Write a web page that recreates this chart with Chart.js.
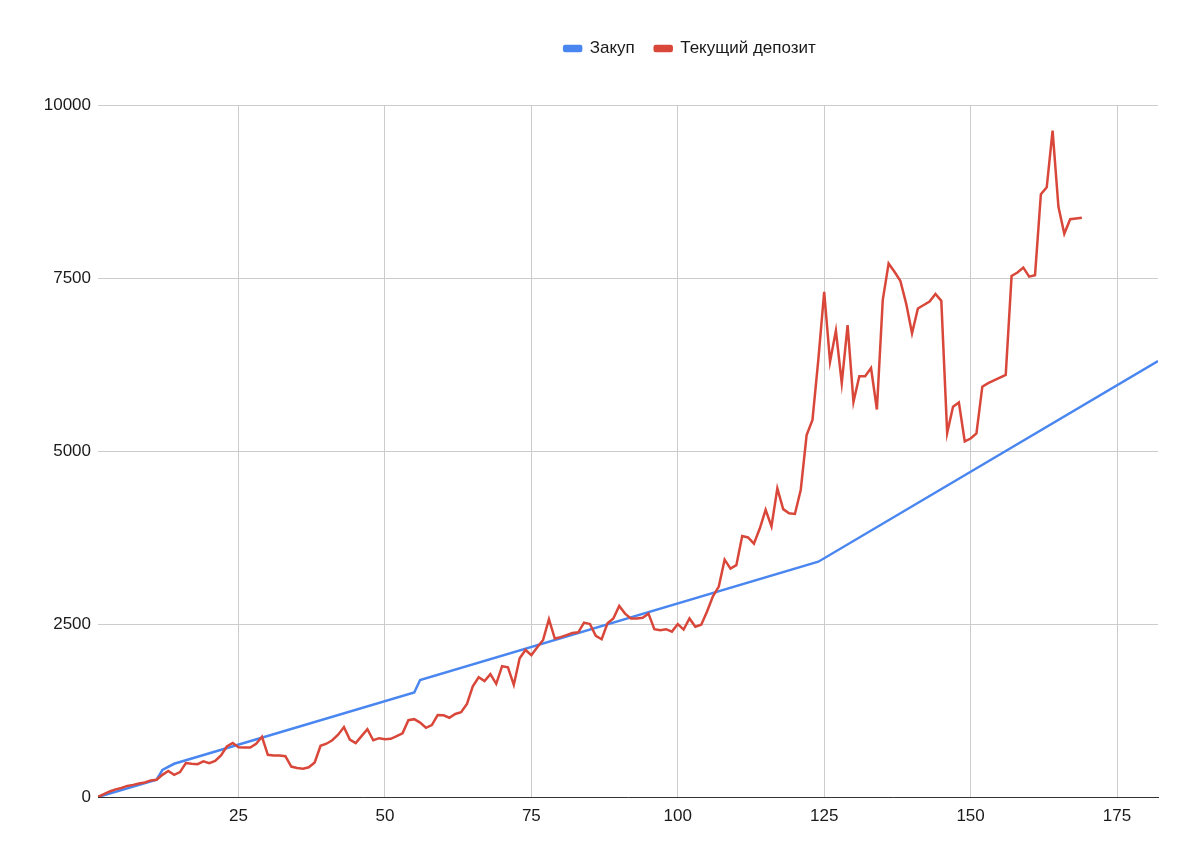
<!DOCTYPE html>
<html lang="ru">
<head>
    <meta charset="UTF-8">
    <title>Закуп и текущий депозит</title>
    <script src="https://cdn.jsdelivr.net/npm/chart.js@4.4.0/dist/chart.umd.min.js"></script>
    <style>
        html, body {
            margin: 0;
            padding: 0;
            background-color: #ffffff;
        }
        canvas {
            display: block;
        }
    </style>
</head>
<body>
    <canvas id="deposit-chart" width="1200" height="846"></canvas>

    <script>
        // Закуп: break points of the purchase line (day, sum)
        const purchaseDays = [1, 11, 12, 14, 55, 56, 124, 182];
        const purchaseSums = [0, 250, 390, 480, 1510, 1690, 3400, 6300];

        // Текущий депозит: one value per day, starting at day 1
        const depositValues = [
            0, 40, 80, 110, 130, 160, 175, 195, 210, 240,
            250, 320, 375, 320, 360, 490, 480, 475, 515, 490,
            520, 600, 730, 780, 720, 715, 715, 770, 870, 610,
            600, 600, 590, 440, 420, 410, 430, 500, 740, 770,
            820, 900, 1010, 830, 780, 880, 980, 820, 850, 835,
            840, 880, 920, 1110, 1125, 1075, 1000, 1040, 1185, 1180,
            1145, 1200, 1225, 1345, 1600, 1730, 1675, 1775, 1635, 1890,
            1875, 1620, 2005, 2125, 2050, 2165, 2270, 2570, 2290, 2310,
            2340, 2370, 2380, 2520, 2500, 2330, 2280, 2510, 2580, 2760,
            2650, 2580, 2580, 2590, 2650, 2425, 2410, 2425, 2390, 2500,
            2420, 2580, 2460, 2490, 2680, 2900, 3040, 3430, 3300, 3350,
            3770, 3750, 3660, 3880, 4150, 3910, 4460, 4160, 4100, 4090,
            4440, 5230, 5450, 6320, 7300, 6290, 6740, 5980, 6820, 5710,
            6080, 6080, 6200, 5600, 7180, 7710, 7590, 7460, 7130, 6700,
            7060, 7110, 7160, 7270, 7170, 5260, 5640, 5700, 5140, 5180,
            5255, 5930, 5980, 6020, 6060, 6100, 7530, 7580, 7650, 7520,
            7540, 8710, 8810, 9630, 8530, 8140, 8350, 8360, 8370
        ];

        const xTicks = [25, 50, 75, 100, 125, 150, 175];
        const yTicks = [0, 2500, 5000, 7500, 10000];

        const purchasePoints = purchaseDays.map((day, i) => ({ x: day, y: purchaseSums[i] }));
        const depositPoints = depositValues.map((v, i) => ({ x: i + 1, y: v }));

        // extra space under the legend, and legend pushed a bit to the right
        const legendPlacement = {
            id: 'legendPlacement',
            beforeInit(chart) {
                const originalFit = chart.legend.fit;
                chart.legend.fit = function fit() {
                    originalFit.bind(chart.legend)();
                    this.height += 38;
                };
            },
            afterLayout(chart) {
                chart.legend.left += 222;
            }
        };

        const font = { family: "'Liberation Sans', Arial, sans-serif", size: 17 };
        const textColor = '#1a1a1a';

        new Chart(document.getElementById('deposit-chart'), {
            type: 'line',
            data: {
                datasets: [
                    {
                        label: 'Закуп',
                        data: purchasePoints,
                        borderColor: '#4a86f0',
                        backgroundColor: '#4a86f0',
                        borderWidth: 2.5,
                        pointRadius: 0,
                        tension: 0,
                        order: 2
                    },
                    {
                        label: 'Текущий депозит',
                        data: depositPoints,
                        borderColor: '#d9473a',
                        backgroundColor: '#d9473a',
                        borderWidth: 2.5,
                        pointRadius: 0,
                        tension: 0,
                        order: 1
                    }
                ]
            },
            options: {
                responsive: false,
                animation: false,
                layout: {
                    padding: { top: 20, right: 42, bottom: 0, left: 0 }
                },
                plugins: {
                    tooltip: { enabled: false },
                    legend: {
                        position: 'top',
                        align: 'center',
                        labels: {
                            font: font,
                            color: textColor,
                            boxWidth: 17,
                            boxHeight: 5,
                            useBorderRadius: true,
                            borderRadius: 1,
                            padding: 20,
                            sort: (a, b) => a.datasetIndex - b.datasetIndex
                        }
                    }
                },
                scales: {
                    x: {
                        type: 'linear',
                        min: 1,
                        max: 182,
                        afterBuildTicks: scale => {
                            scale.ticks = xTicks.map(v => ({ value: v }));
                        },
                        afterFit: scale => {
                            scale.height = 49;
                        },
                        grid: {
                            color: '#cccccc',
                            drawTicks: false
                        },
                        border: {
                            display: true,
                            color: '#333333',
                            width: 1
                        },
                        ticks: {
                            font: font,
                            color: textColor,
                            padding: 9,
                            maxRotation: 0,
                            callback: value => String(value)
                        }
                    },
                    y: {
                        min: 0,
                        max: 10000,
                        afterBuildTicks: scale => {
                            scale.ticks = yTicks.map(v => ({ value: v }));
                        },
                        afterFit: scale => {
                            scale.width = 98;
                        },
                        grid: {
                            color: '#cccccc',
                            drawTicks: false
                        },
                        border: { display: false },
                        ticks: {
                            font: font,
                            color: textColor,
                            padding: 7,
                            callback: value => String(value)
                        }
                    }
                }
            },
            plugins: [legendPlacement]
        });
    </script>
</body>
</html>
